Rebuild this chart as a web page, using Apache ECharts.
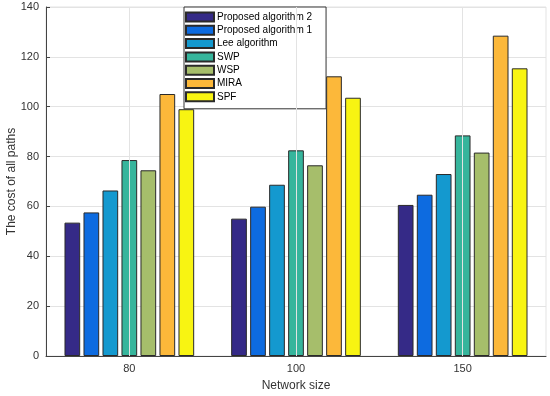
<!DOCTYPE html>
<html>
<head>
<meta charset="utf-8">
<script src="https://cdn.jsdelivr.net/npm/echarts@6/dist/echarts.min.js"></script>
<style>html,body{margin:0;padding:0;background:#fff;}#c{width:550px;height:396px;}</style>
</head>
<body>
<div id="c"></div>
<script>
var categories = ['80', '100', '150'];
var seriesNames = ['Proposed algorithm 2', 'Proposed algorithm 1', 'Lee algorithm', 'SWP', 'WSP', 'MIRA', 'SPF'];
var proposed2 = [53.5, 55.1, 60.6];
var proposed1 = [57.6, 59.9, 64.7];
var lee = [66.4, 68.7, 73.0];
var swp = [78.6, 82.5, 88.5];
var wsp = [74.5, 76.5, 81.6];
var mira = [105.1, 112.2, 128.5];
var spf = [99.0, 103.6, 115.4];
var yTicks = [0, 20, 40, 60, 80, 100, 120, 140];
var colors = ['#352a87', '#0d6be0', '#1499cf', '#36b59c', '#a6be6b', '#fcb83a', '#f8f412'];

var values = [proposed2, proposed1, lee, swp, wsp, mira, spf];
var chart = echarts.init(document.getElementById('c'));
var series = [{
  type: 'line', name: '_grid', data: [], silent: true, z: 0,
  markLine: {
    silent: true, symbol: ['none', 'none'], label: {show: false},
    lineStyle: {color: '#e3e3e3', type: 'solid', width: 1},
    data: categories.map(function (c) { return {xAxis: c}; })
  }
}];
seriesNames.forEach(function (n, i) {
  series.push({
    type: 'bar', name: n, data: values[i], z: 2,
    barWidth: 15.7, barGap: '21%',
    itemStyle: {color: colors[i], borderColor: '#2a2a2a', borderWidth: 1}
  });
});
chart.setOption({
  animation: false,
  textStyle: {fontFamily: 'Liberation Sans'},
  grid: {left: 46, right: 4, top: 7, bottom: 40, show: true, borderColor: '#e3e3e3', borderWidth: 1,
    containLabel: false, outerBoundsMode: 'none'},
  legend: {
    data: seriesNames, orient: 'vertical', left: 184, top: 7,
    itemWidth: 28, itemHeight: 9, itemGap: 1.3,
    padding: [4, 14, 6, 1],
    backgroundColor: '#fff', borderColor: '#333', borderWidth: 1, borderRadius: 0,
    icon: 'rect',
    textStyle: {fontSize: 10, lineHeight: 12, color: '#000', fontFamily: 'Liberation Sans', padding: [0, 0, 0, -2]},
    selectedMode: false
  },
  xAxis: {
    type: 'category', data: categories,
    name: 'Network size', nameLocation: 'middle', nameGap: 24, nameMoveOverlap: false,
    nameTextStyle: {fontSize: 12, color: '#333'},
    axisLine: {lineStyle: {color: '#444', width: 1}},
    axisTick: {inside: true, alignWithLabel: true, length: 4, lineStyle: {color: '#444'}},
    axisLabel: {fontSize: 11, color: '#333', margin: 7},
    splitLine: {show: false}
  },
  yAxis: {
    type: 'value', min: 0, max: 140, interval: 20,
    name: 'The cost of all paths', nameLocation: 'middle', nameGap: 28, nameMoveOverlap: false,
    nameTextStyle: {fontSize: 12, color: '#333'},
    axisLine: {show: true, lineStyle: {color: '#444', width: 1}},
    axisTick: {show: true, inside: true, length: 4, lineStyle: {color: '#444'}},
    axisLabel: {fontSize: 11, color: '#333', margin: 7,
      formatter: function (v) { return yTicks.indexOf(v) >= 0 ? String(v) : ''; }},
    splitLine: {lineStyle: {color: '#e3e3e3', width: 1}}
  },
  series: series
});
</script>
</body>
</html>
